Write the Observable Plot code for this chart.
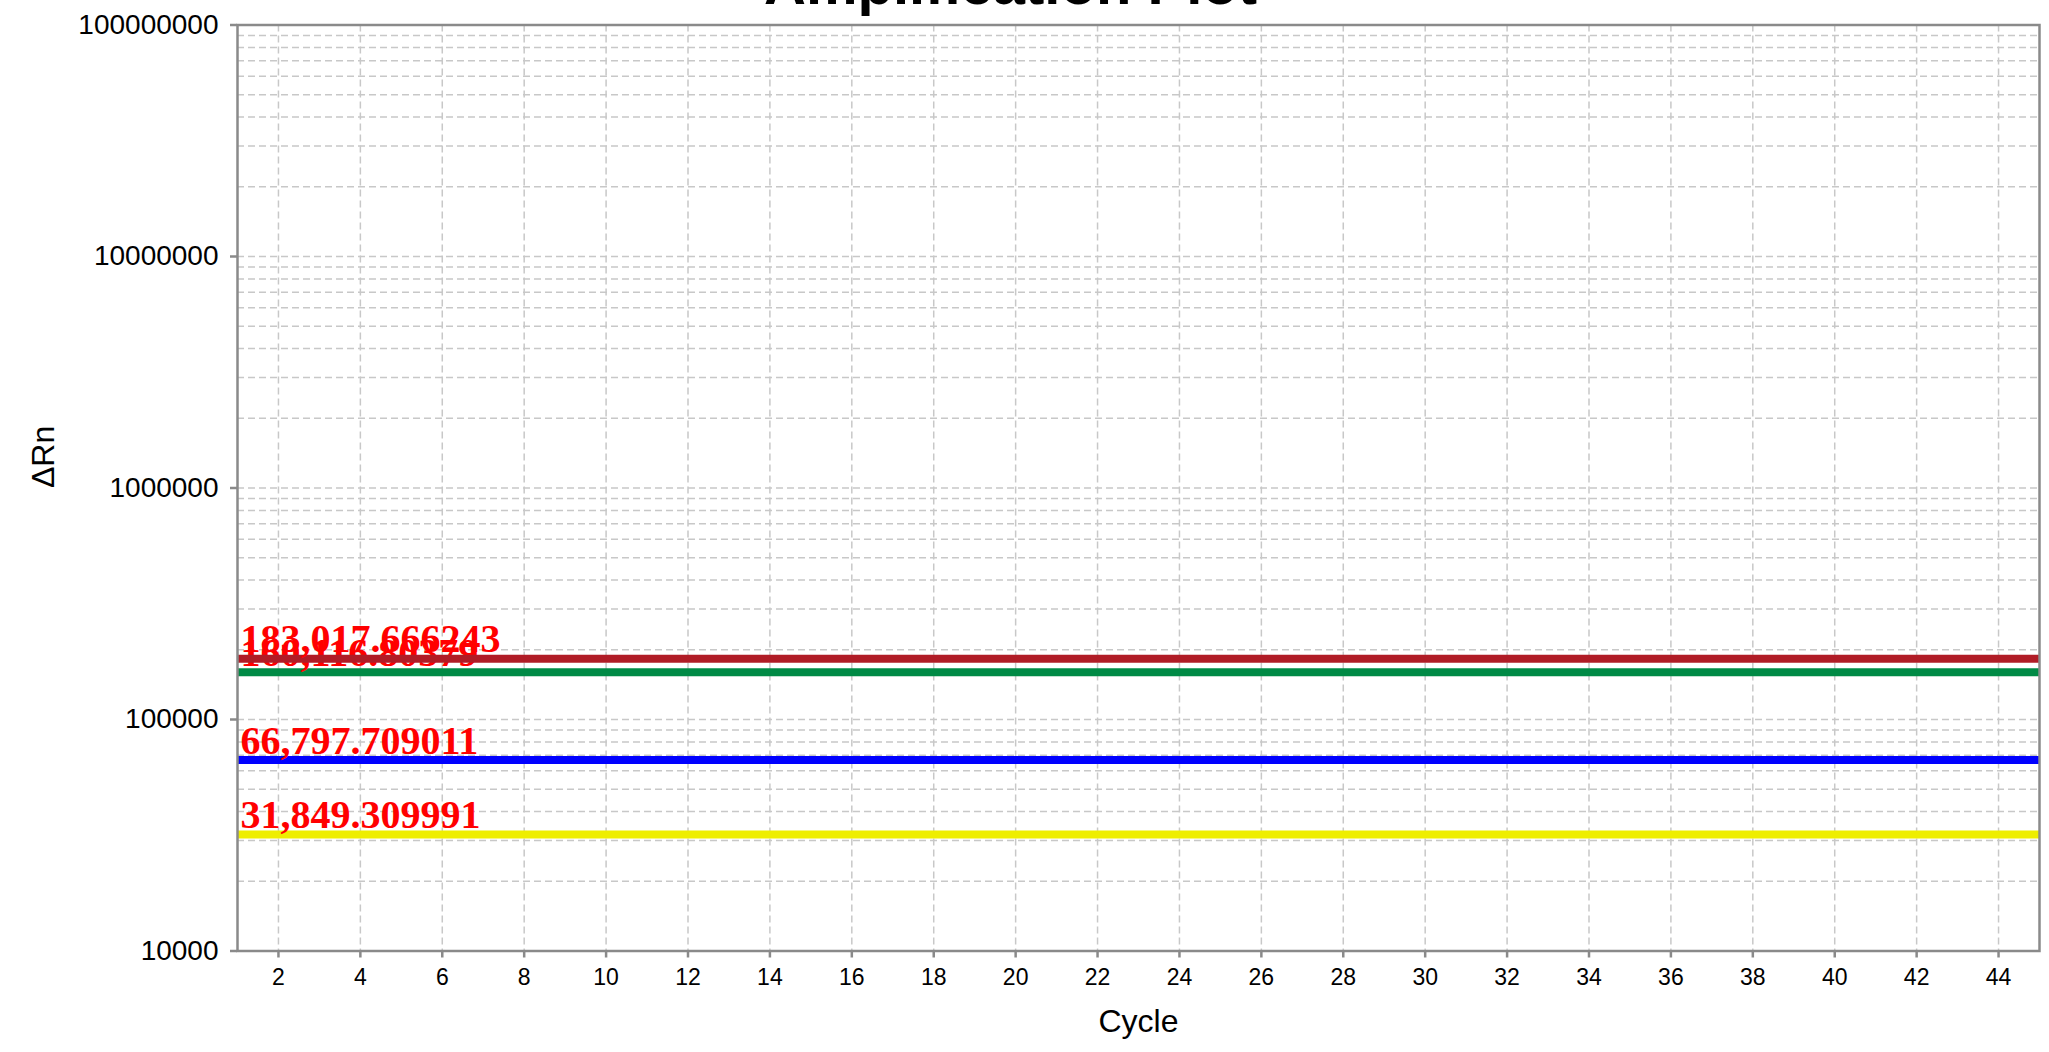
<!DOCTYPE html>
<html>
<head>
<meta charset="utf-8">
<script src="https://cdn.jsdelivr.net/npm/d3@7"></script>
<script src="https://cdn.jsdelivr.net/npm/@observablehq/plot@0.6"></script>
<style>
  html, body { margin: 0; padding: 0; background: #ffffff; overflow: hidden; }
  #chart svg { display: block; }
</style>
</head>
<body>
<div id="chart"></div>
<script>
// ---- data ----
const seriesNames = ["red", "green", "blue", "yellow"];
const seriesValues = [183017.666243, 160116.80379, 66797.709011, 31849.309991];
const seriesLabels = ["183,017.666243", "160,116.80379", "66,797.709011", "31,849.309991"];
const seriesColors = ["#b01c26", "#008a45", "#0000ff", "#eeee00"];

const xTicks = [2, 4, 6, 8, 10, 12, 14, 16, 18, 20, 22, 24, 26, 28, 30, 32, 34, 36, 38, 40, 42, 44];
const yTicks = [10000, 100000, 1000000, 10000000, 100000000];
const yMinorSteps = [1, 2, 3, 4, 5, 6, 7, 8, 9];

const titleText = "Amplification Plot";
const xLabel = "Cycle";
const yLabel = "ΔRn";

// ---- derived ----
const series = seriesNames.map((name, i) => ({
  name, value: seriesValues[i], label: seriesLabels[i], color: seriesColors[i]
}));
const yGrid = yTicks.slice(0, -1).flatMap(t => yMinorSteps.map(m => t * m)).concat([yTicks[yTicks.length - 1]]);

const gridColor = "#c8c8c8";
const axisGray = "#8a8a8a";
const sans = "'Liberation Sans', Arial, Helvetica, sans-serif";
const serif = "'Liberation Serif', 'Times New Roman', serif";

const seriesMarks = series.slice().reverse().flatMap(s => [
  Plot.ruleY([s], {y: "value", stroke: s.color, strokeWidth: 8}),
  Plot.text([s], {
    x: () => 1, y: "value", text: "label",
    textAnchor: "start", lineAnchor: "bottom", dx: 3, dy: -6.5,
    fill: "#ff0000", fontSize: 40, fontWeight: "bold", fontFamily: serif
  })
]);

const chart = Plot.plot({
  width: 2049,
  height: 1052,
  marginLeft: 237,
  marginRight: 10,
  marginTop: 24.5,
  marginBottom: 101.5,
  style: {background: "#ffffff", fontFamily: sans, color: "#000000", overflow: "visible"},
  x: {domain: [1, 45], label: null},
  y: {type: "log", domain: [10000, 100000000], label: null},
  marks: [
    Plot.ruleY(yGrid, {stroke: gridColor, strokeWidth: 1.5, strokeDasharray: "7,4"}),
    Plot.ruleX(xTicks, {stroke: gridColor, strokeWidth: 1.5, strokeDasharray: "7,4"}),
    ...seriesMarks,
    Plot.frame({stroke: axisGray, strokeWidth: 2.5}),
    Plot.axisX({
      ticks: xTicks, tickSize: 7, tickPadding: 11, fontSize: 23,
      color: "#000000", stroke: axisGray, strokeWidth: 2.5, label: null
    }),
    Plot.axisY({
      ticks: yTicks, tickFormat: d => String(d), tickSize: 7, tickPadding: 12, fontSize: 28,
      color: "#000000", stroke: axisGray, strokeWidth: 2.5, label: null
    }),
    Plot.text([xLabel], {
      text: d => d, frameAnchor: "bottom", dy: 70.5, lineAnchor: "middle",
      fontSize: 32, fill: "#000000"
    }),
    Plot.text([yLabel], {
      text: d => d, frameAnchor: "left", dx: -194, rotate: -90, lineAnchor: "middle",
      fontSize: 32, fill: "#000000"
    }),
    Plot.text([titleText], {
      text: d => d, frameAnchor: "top", dx: -128, dy: -21.5, lineAnchor: "bottom",
      fontSize: 58, fontWeight: "bold", fill: "#000000"
    })
  ]
});

document.getElementById("chart").appendChild(chart);
</script>
</body>
</html>
